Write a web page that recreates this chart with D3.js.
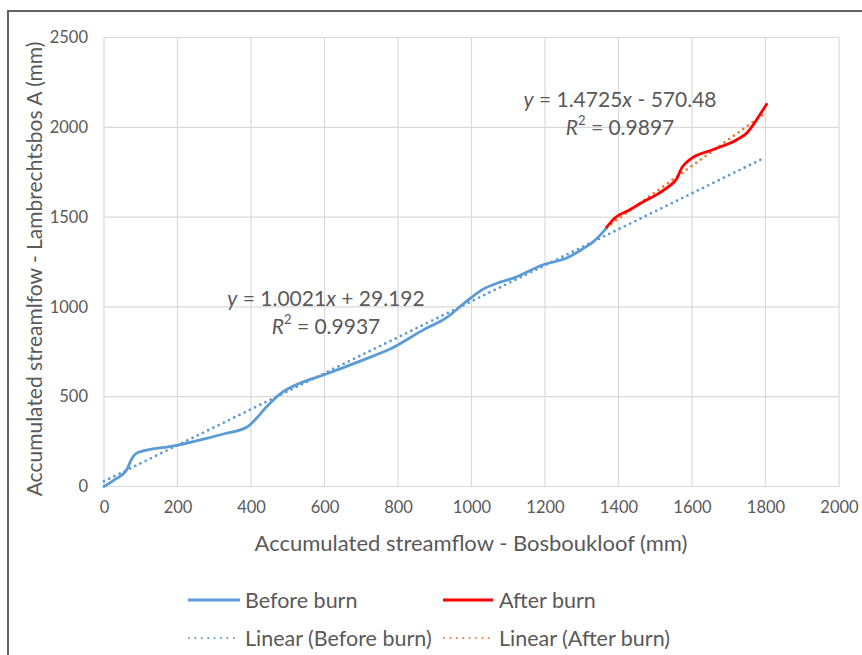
<!DOCTYPE html>
<html>
<head>
<meta charset="utf-8">
<script src="https://cdn.jsdelivr.net/npm/d3@7"></script>
<style>
  html, body { margin: 0; padding: 0; background: #ffffff; }
  svg { display: block; }
  text { font-family: Lato, "Open Sans", sans-serif; fill: #595959; }
</style>
</head>
<body>
<svg id="chart" width="862" height="655"></svg>
<script>
// Accumulated streamflow, Bosboukloof (x) against Lambrechtsbos A (y), mm
const beforeX = [0, 30, 62, 75, 92, 198, 279, 330, 388, 411, 443, 484, 533, 597, 706, 778, 869, 932, 987, 1032, 1078, 1114, 1195, 1259, 1304, 1331, 1368];
const beforeY = [0, 39, 94, 152, 189, 229, 268, 295, 330, 371, 445, 523, 575, 621, 705, 765, 872, 940, 1032, 1099, 1138, 1160, 1235, 1272, 1325, 1362, 1440];

const afterX = [1368, 1390, 1431, 1470, 1504, 1535, 1558, 1572, 1594, 1658, 1722, 1750, 1767, 1785, 1803];
const afterY = [1444, 1495, 1541, 1588, 1625, 1668, 1712, 1774, 1820, 1876, 1931, 1970, 2015, 2071, 2128];

// Least-squares trend lines: slope, intercept, R², drawn span
const trendNames = ["Before burn", "After burn"];
const trendSlope = [1.0021, 1.4725];
const trendIntercept = [29.192, -570.48];
const trendR2 = [0.9937, 0.9897];
const trendFrom = [0, 1368];
const trendTo = [1800, 1803];

const xTicks = [0, 200, 400, 600, 800, 1000, 1200, 1400, 1600, 1800, 2000];
const yTicks = [0, 500, 1000, 1500, 2000, 2500];

const xTitle = "Accumulated streamflow - Bosboukloof (mm)";
const yTitle = "Accumulated streamlfow - Lambrechtsbos A (mm)";
const legendLabels = ["Before burn", "After burn", "Linear (Before burn)", "Linear (After burn)"];

const blue = "#5b9bd5", red = "#ff0000", orange = "#ed7d31", grid = "#d9d9d9";

const svg = d3.select("#chart");

// outer frame (top and left edges visible)
svg.append("path")
  .attr("d", "M8,655 L8,11 L862,11")
  .attr("fill", "none").attr("stroke", "#616161").attr("stroke-width", 2);

const x = d3.scaleLinear().domain([0, 2000]).range([104, 839]);
const y = d3.scaleLinear().domain([0, 2500]).range([486.5, 37.5]);

// gridlines
svg.append("g").selectAll("line").data(xTicks).join("line")
  .attr("x1", d => x(d)).attr("x2", d => x(d))
  .attr("y1", y(0)).attr("y2", y(2500))
  .attr("stroke", grid).attr("stroke-width", 1.2);
svg.append("g").selectAll("line").data(yTicks).join("line")
  .attr("x1", x(0)).attr("x2", x(2000))
  .attr("y1", d => y(d)).attr("y2", d => y(d))
  .attr("stroke", grid).attr("stroke-width", 1.2);

// axes (labels only; gridlines above serve as axis lines)
const xAxis = svg.append("g").attr("transform", `translate(0,${y(0)})`)
  .call(d3.axisBottom(x).tickValues(xTicks).tickSize(0).tickPadding(15).tickFormat(d3.format("d")));
const yAxis = svg.append("g").attr("transform", `translate(${x(0)},0)`)
  .call(d3.axisLeft(y).tickValues(yTicks).tickSize(0).tickPadding(16).tickFormat(d3.format("d")));
[xAxis, yAxis].forEach(g => {
  g.select(".domain").remove();
  g.selectAll("text").attr("font-size", 16.5).attr("font-family", "Lato, sans-serif").attr("fill", "#595959");
});

// axis titles
svg.append("text").attr("x", 471).attr("y", 542)
  .attr("text-anchor", "middle").attr("dominant-baseline", "central")
  .attr("font-size", 22).text(xTitle);
svg.append("text").attr("transform", "translate(33,269) rotate(-90)")
  .attr("text-anchor", "middle").attr("dominant-baseline", "central")
  .attr("font-size", 21).text(yTitle);

// trend lines
const trendColors = [blue, orange];
trendSlope.forEach((m, i) => {
  const pts = [trendFrom[i], trendTo[i]].map(v => [v, m * v + trendIntercept[i]]);
  svg.append("path")
    .attr("d", d3.line().x(d => x(d[0])).y(d => y(d[1]))(pts))
    .attr("fill", "none").attr("stroke", trendColors[i])
    .attr("stroke-width", 2.8).attr("stroke-linecap", "round")
    .attr("stroke-dasharray", "0 5.8");
});

// data series
const line = d3.line().x(d => x(d[0])).y(d => y(d[1])).curve(d3.curveMonotoneX);
svg.append("path").attr("d", line(d3.zip(beforeX, beforeY)))
  .attr("fill", "none").attr("stroke", blue).attr("stroke-width", 2.8)
  .attr("stroke-linejoin", "round").attr("stroke-linecap", "round");
svg.append("path").attr("d", line(d3.zip(afterX, afterY)))
  .attr("fill", "none").attr("stroke", red).attr("stroke-width", 2.8)
  .attr("stroke-linejoin", "round").attr("stroke-linecap", "round");

// trend equations
function equation(i, cx, cy) {
  const m = trendSlope[i], b = trendIntercept[i];
  const decimals = String(Math.abs(b)).split(".")[1];
  const t = svg.append("text").attr("x", cx).attr("y", cy)
    .attr("text-anchor", "middle").attr("dominant-baseline", "central").attr("font-size", 21);
  t.append("tspan").attr("font-style", "italic").text("y");
  t.append("tspan").text(" = " + m.toFixed(4));
  t.append("tspan").attr("font-style", "italic").text("x");
  t.append("tspan").text((b < 0 ? " - " : " + ") + Math.abs(b).toFixed(decimals ? decimals.length : 0));
  const r = svg.append("text").attr("x", cx).attr("y", cy + 28)
    .attr("text-anchor", "middle").attr("dominant-baseline", "central").attr("font-size", 21);
  r.append("tspan").attr("font-style", "italic").text("R");
  r.append("tspan").attr("font-size", 13).attr("dy", -6).text("2");
  r.append("tspan").attr("dy", 6).text(" = " + trendR2[i].toFixed(4));
}
equation(0, 326, 297);
equation(1, 620, 98);

// legend
const legend = [
  { label: legendLabels[0], color: blue, dash: null, x: 188, y: 600, len: 52 },
  { label: legendLabels[1], color: red, dash: null, x: 443, y: 600, len: 50 },
  { label: legendLabels[2], color: blue, dash: "0 6.4", x: 189, y: 638, len: 46 },
  { label: legendLabels[3], color: orange, dash: "0 6.4", x: 444, y: 638, len: 46 }
];
const lg = svg.append("g").selectAll("g").data(legend).join("g");
lg.append("line")
  .attr("x1", d => d.x).attr("x2", d => d.x + d.len)
  .attr("y1", d => d.y).attr("y2", d => d.y)
  .attr("stroke", d => d.color)
  .attr("stroke-width", d => d.dash ? 2 : 2.8)
  .attr("stroke-linecap", d => d.dash ? "round" : "butt")
  .attr("stroke-dasharray", d => d.dash);
lg.append("text")
  .attr("x", d => d.x < 300 ? 245 : 499).attr("y", d => d.y)
  .attr("dominant-baseline", "central").attr("font-size", 21.5)
  .text(d => d.label);
</script>
</body>
</html>
